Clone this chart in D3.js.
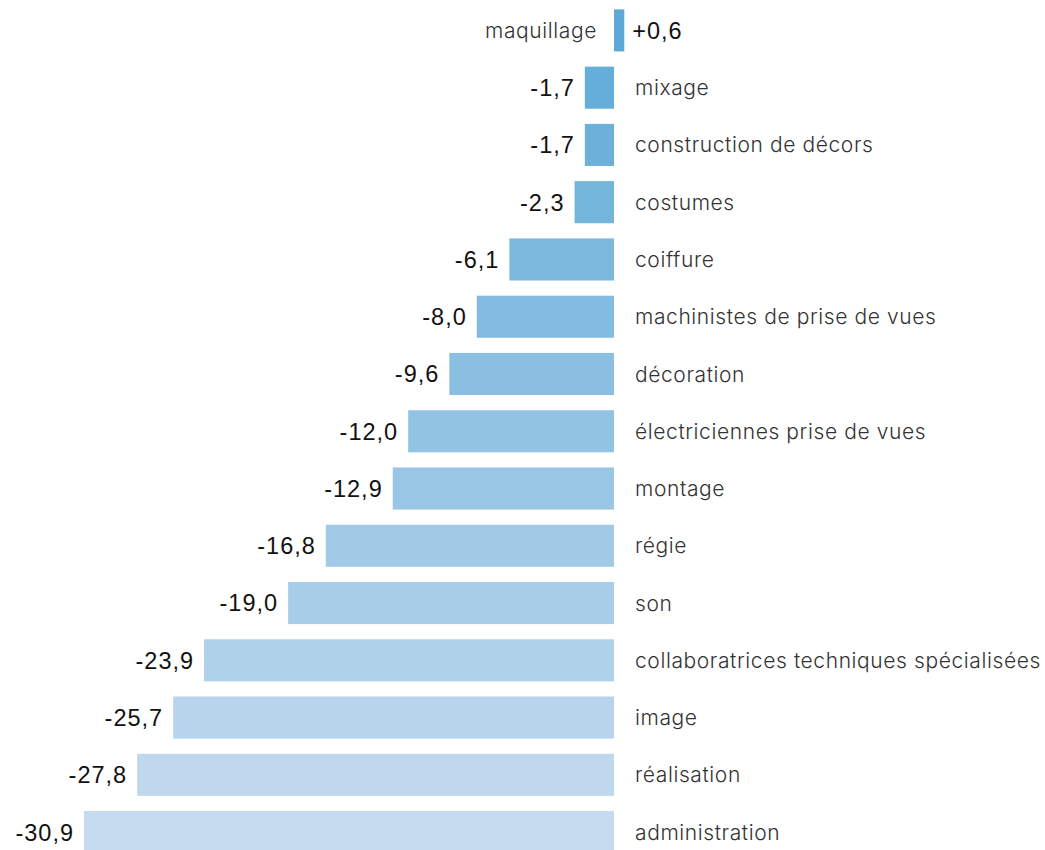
<!DOCTYPE html>
<html><head><meta charset="utf-8">
<script src="https://cdn.jsdelivr.net/npm/d3@7"></script>
<style>body{margin:0;background:#fff}</style>
</head><body>
<svg id="c" width="1045" height="850"></svg>
<script>
const categories = ["maquillage","mixage","construction de décors","costumes","coiffure","machinistes de prise de vues","décoration","électriciennes prise de vues","montage","régie","son","collaboratrices techniques spécialisées","image","réalisation","administration"];
const values = [0.6,-1.7,-1.7,-2.3,-6.1,-8.0,-9.6,-12.0,-12.9,-16.8,-19.0,-23.9,-25.7,-27.8,-30.9];
const valueLabels = ["+0,6","-1,7","-1,7","-2,3","-6,1","-8,0","-9,6","-12,0","-12,9","-16,8","-19,0","-23,9","-25,7","-27,8","-30,9"];
const colorRange = ["#5eaad7","#c6dbef"];

const svg = d3.select("#c");
const x = d3.scaleLinear().domain([-30.9, 0]).range([84, 614]);
const y = d3.scaleBand().domain(categories).range([2.5, 860]).paddingInner(0.265).paddingOuter(0.12);
const col = d3.scaleLinear().domain([0, categories.length-1]).range(colorRange).interpolate(d3.interpolateRgb);

const data = categories.map((c,i)=>({c, v: values[i], l: valueLabels[i], i}));

svg.selectAll("rect").data(data).join("rect")
  .attr("x", d => x(Math.min(0,d.v)))
  .attr("width", d => Math.abs(x(d.v)-x(0)))
  .attr("y", d => y(d.c))
  .attr("height", y.bandwidth())
  .attr("fill", d => col(d.i));

svg.selectAll("text.val").data(data).join("text")
  .attr("class","val")
  .attr("x", d => d.v < 0 ? x(d.v) - 10 : x(d.v) + 8)
  .attr("y", d => y(d.c) + y.bandwidth()/2)
  .attr("dy","0.36em")
  .attr("text-anchor", d => d.v < 0 ? "end" : "start")
  .attr("font-family","Liberation Sans, Arial, sans-serif")
  .attr("font-size", 23.5)
  .attr("letter-spacing", 1)
  .attr("fill","#111")
  .text(d => d.l);

svg.selectAll("text.cat").data(data).join("text")
  .attr("class","cat")
  .attr("x", d => d.v < 0 ? x(0) + 21 : x(0) - 17)
  .attr("y", d => y(d.c) + y.bandwidth()/2)
  .attr("dy","0.36em")
  .attr("text-anchor", d => d.v < 0 ? "start" : "end")
  .attr("font-family","Inter, Roboto, sans-serif")
  .attr("font-size", 21)
  .attr("font-weight", 300)
  .attr("letter-spacing", 0.6)
  .attr("fill","#333")
  .text(d => d.c);
</script>
</body></html>
